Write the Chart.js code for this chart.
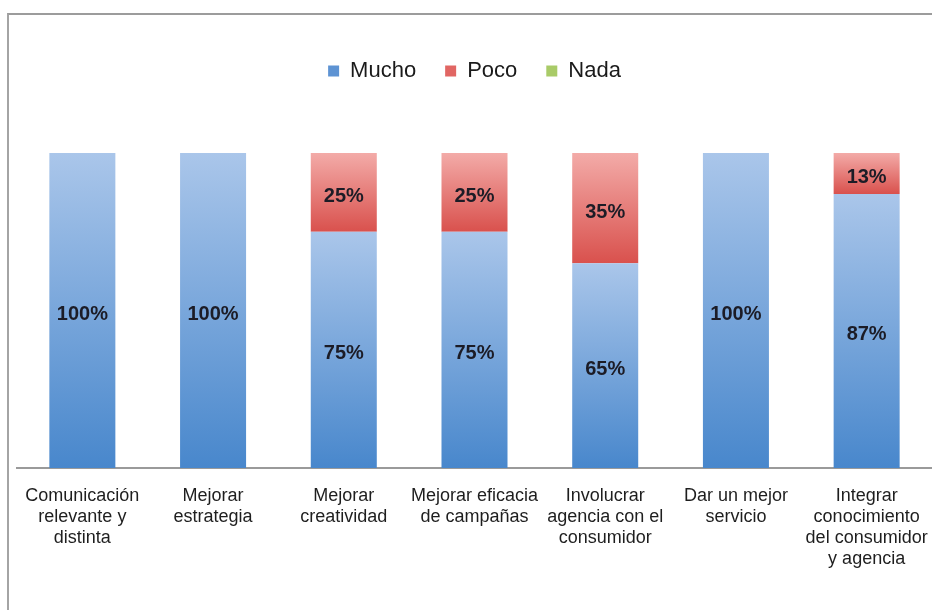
<!DOCTYPE html>
<html>
<head>
<meta charset="utf-8">
<script src="https://cdn.jsdelivr.net/npm/chart.js@4/dist/chart.umd.min.js"></script>
<style>
  html, body { margin: 0; padding: 0; background: #ffffff; }
  #wrap { position: relative; width: 932px; height: 610px; overflow: hidden; }
  #frame { position: absolute; left: 7px; top: 13px; width: 940px; height: 620px;
           border-top: 2px solid #9c9c9c; border-left: 2px solid #a4a4a4; }
  canvas { position: absolute; left: 0; top: 0; }
</style>
</head>
<body>
<div id="wrap">
  <div id="frame"></div>
  <canvas id="chart" width="932" height="610"></canvas>
</div>
<script>
// Categories (multi-line axis labels)
const categories = [
  ["Comunicación", "relevante y", "distinta"],
  ["Mejorar", "estrategia"],
  ["Mejorar", "creatividad"],
  ["Mejorar eficacia", "de campañas"],
  ["Involucrar", "agencia con el", "consumidor"],
  ["Dar un mejor", "servicio"],
  ["Integrar", "conocimiento", "del consumidor", "y agencia"]
];

// Percentages per answer
const mucho = [100, 100, 75, 75, 65, 100, 87];
const poco  = [0, 0, 25, 25, 35, 0, 13];
const nada  = [0, 0, 0, 0, 0, 0, 0];

const seriesNames = ["Mucho", "Poco", "Nada"];
const seriesValues = [mucho, poco, nada];

// Gradient stops (top, bottom) and flat legend colour for each series
const palette = [
  { top: "#aac6ea", bottom: "#4887cc", flat: "#5d93d3" },
  { top: "#f3aba8", bottom: "#d9514d", flat: "#e16663" },
  { top: "#cfe3a4", bottom: "#9bbb59", flat: "#a9cb68" }
];

const FONT = "'Liberation Sans', Arial, Helvetica, sans-serif";

function segmentFill(seriesIdx) {
  return function (ctx) {
    const chart = ctx.chart;
    const c = palette[seriesIdx];
    const i = ctx.dataIndex;
    if (ctx.type !== "data" || i === undefined || !chart.chartArea || !chart.scales.y) return c.flat;
    let base = 0;
    for (let s = 0; s < seriesIdx; s++) base += seriesValues[s][i];
    const top = base + seriesValues[seriesIdx][i];
    const y0 = chart.scales.y.getPixelForValue(base);
    const y1 = chart.scales.y.getPixelForValue(top);
    if (!isFinite(y0) || !isFinite(y1) || Math.abs(y0 - y1) < 1) return c.flat;
    const g = chart.ctx.createLinearGradient(0, y1, 0, y0);
    g.addColorStop(0, c.top);
    g.addColorStop(1, c.bottom);
    return g;
  };
}

// Gives the legend a fixed height so the plot starts lower on the page
const legendSpacer = {
  id: "legendSpacer",
  beforeInit(chart) {
    const legend = chart.legend;
    if (!legend) return;
    const fit = legend.fit;
    legend.fit = function () {
      fit.call(this);
      this.height = 122;
    };
  }
};

// Percentage labels centred in each segment
const segmentLabels = {
  id: "segmentLabels",
  afterDatasetsDraw(chart) {
    const ctx = chart.ctx;
    ctx.save();
    ctx.font = "bold 20px " + FONT;
    ctx.fillStyle = "#1c1c26";
    ctx.textAlign = "center";
    ctx.textBaseline = "middle";
    chart.data.datasets.forEach((ds, di) => {
      const meta = chart.getDatasetMeta(di);
      meta.data.forEach((bar, i) => {
        const v = ds.data[i];
        if (!v) return;
        const p = bar.getCenterPoint();
        ctx.fillText(v + "%", p.x, p.y + 4);
      });
    });
    ctx.restore();
  }
};

new Chart(document.getElementById("chart"), {
  type: "bar",
  data: {
    labels: categories,
    datasets: seriesNames.map((name, s) => ({
      label: name,
      data: seriesValues[s],
      backgroundColor: segmentFill(s),
      borderWidth: 0,
      categoryPercentage: 1,
      barPercentage: 0.505
    }))
  },
  options: {
    responsive: false,
    animation: false,
    layout: { padding: { left: 17, right: 0, top: 31, bottom: 22 } },
    plugins: {
      tooltip: { enabled: false },
      legend: {
        position: "top",
        align: "center",
        labels: {
          boxWidth: 11,
          boxHeight: 11,
          padding: 29,
          color: "#1a1a1a",
          font: { family: FONT, size: 22 },
          generateLabels(chart) {
            const items = Chart.defaults.plugins.legend.labels.generateLabels(chart);
            items.forEach((it, k) => {
              it.fillStyle = palette[k].flat;
              it.strokeStyle = palette[k].flat;
              it.lineWidth = 0;
            });
            return items;
          }
        }
      }
    },
    scales: {
      x: {
        stacked: true,
        grid: { display: false, drawTicks: false },
        border: { display: true, color: "#9a9a9a", width: 2 },
        afterFit(scale) {
          scale.paddingLeft = 0;
          scale.paddingRight = 0;
        },
        ticks: {
          color: "#1e1e1e",
          padding: 18,
          autoSkip: false,
          maxRotation: 0,
          font: { family: FONT, size: 18, lineHeight: 1.167 }
        }
      },
      y: {
        stacked: true,
        display: false,
        min: 0,
        max: 100
      }
    }
  },
  plugins: [legendSpacer, segmentLabels]
});
</script>
</body>
</html>
